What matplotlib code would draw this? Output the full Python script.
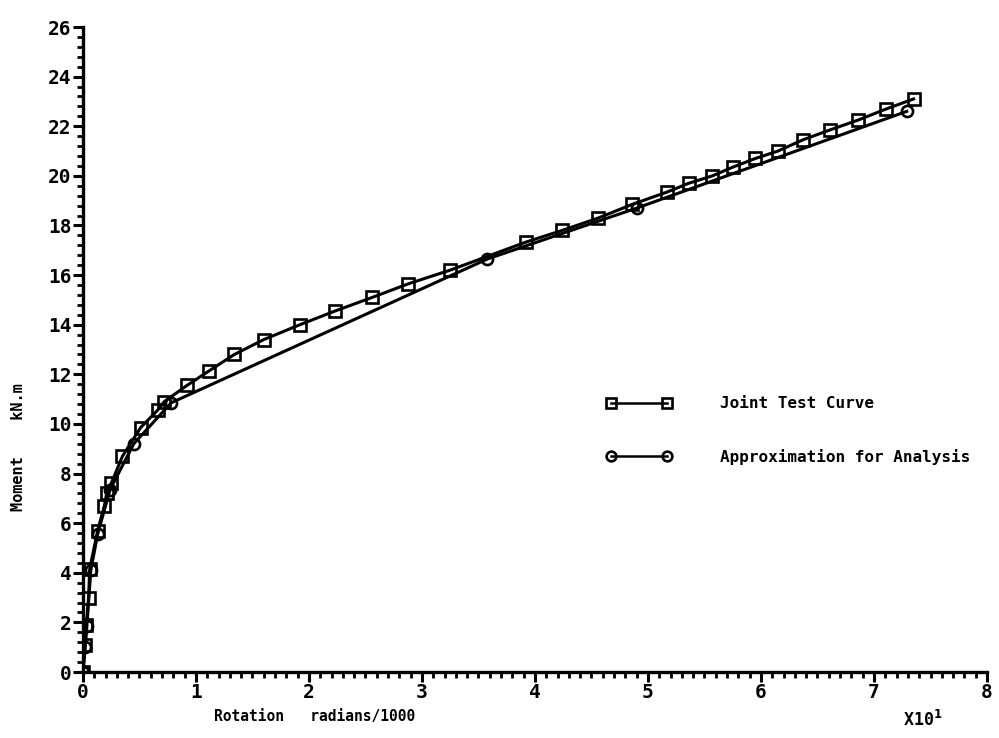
import matplotlib
matplotlib.use("Agg")
import matplotlib.pyplot as plt
from matplotlib.ticker import MultipleLocator, FixedLocator

# Joint test curve (rotation in units of 10 radians/1000, moment in kN.m)
test_rot = [0.00, 0.02, 0.03, 0.05, 0.06, 0.13, 0.19, 0.21, 0.25, 0.35, 0.51,
            0.66, 0.72, 0.92, 1.12, 1.34, 1.60, 1.92, 2.23, 2.56, 2.88, 3.25,
            3.92, 4.24, 4.56, 4.86, 5.17, 5.36, 5.57, 5.75, 5.95, 6.15, 6.37,
            6.61, 6.86, 7.11, 7.35]
test_mom = [0.00, 1.10, 1.90, 3.00, 4.15, 5.70, 6.70, 7.20, 7.60, 8.70, 9.85,
            10.55, 10.90, 11.55, 12.15, 12.80, 13.40, 14.00, 14.55, 15.10, 15.65, 16.20,
            17.33, 17.80, 18.30, 18.85, 19.35, 19.70, 20.00, 20.35, 20.70, 21.00, 21.45,
            21.85, 22.25, 22.70, 23.10]

# Piecewise-linear approximation used in the analysis
approx_rot = [0.00, 0.02, 0.035, 0.07, 0.13, 0.24, 0.45, 0.78, 3.58, 4.90, 7.29]
approx_mom = [0.00, 1.00, 1.85, 4.10, 5.55, 7.35, 9.20, 10.85, 16.65, 18.70, 22.60]

x_ticks = [0, 1, 2, 3, 4, 5, 6, 7, 8]
y_ticks = [0, 2, 4, 6, 8, 10, 12, 14, 16, 18, 20, 22, 24, 26]

FONT = ["DejaVu Sans Mono"]
plt.rcParams["font.family"] = FONT
plt.rcParams["font.weight"] = "bold"

fig = plt.figure(figsize=(9.99, 7.38), dpi=100)
ax = fig.add_axes([0.083, 0.0894, 0.905, 0.874])

line_kw = dict(color="black", linewidth=2.2, markersize=8,
               markerfacecolor="none", markeredgewidth=1.9)
ax.plot(test_rot, test_mom, marker="s", label="Joint Test Curve", **line_kw)
ax.plot(approx_rot, approx_mom, marker="o", label="Approximation for Analysis",
        **line_kw)

ax.set_xlim(0, 8)
ax.set_ylim(0, 26)
ax.xaxis.set_major_locator(FixedLocator(x_ticks))
ax.yaxis.set_major_locator(FixedLocator(y_ticks))
ax.xaxis.set_minor_locator(MultipleLocator(0.1))
ax.yaxis.set_minor_locator(MultipleLocator(0.4))

for side in ("top", "right"):
    ax.spines[side].set_visible(False)
for side in ("left", "bottom"):
    ax.spines[side].set_linewidth(2.4)

ax.tick_params(axis="both", which="major", length=7, width=2.2, direction="out",
               labelsize=14, pad=1)
ax.tick_params(axis="both", which="minor", length=4, width=2, direction="out")
for lab in ax.get_xticklabels() + ax.get_yticklabels():
    lab.set_fontweight("bold")

ax.set_xlabel("Rotation   radians/1000", fontsize=10.5, fontweight="bold")
ax.xaxis.set_label_coords(0.256, -0.058)
ax.set_ylabel("Moment    kN.m", fontsize=11, fontweight="bold")
ax.yaxis.set_label_coords(-0.063, 0.349)

fig.text(0.904, 0.011, r"X10$^{\mathbf{1}}$", fontsize=12, fontweight="bold",
         ha="left", va="bottom")

leg = ax.legend(loc="upper left", bbox_to_anchor=(0.563, 0.45), frameon=False,
                handlelength=4.1, handletextpad=3.0, labelspacing=2.35,
                numpoints=2, prop={"family": FONT, "weight": "bold", "size": 11.5})
for h in leg.legend_handles:
    h.set_markersize(7)
    h.set_linewidth(1.8)

fig.savefig("out.png", dpi=100)
